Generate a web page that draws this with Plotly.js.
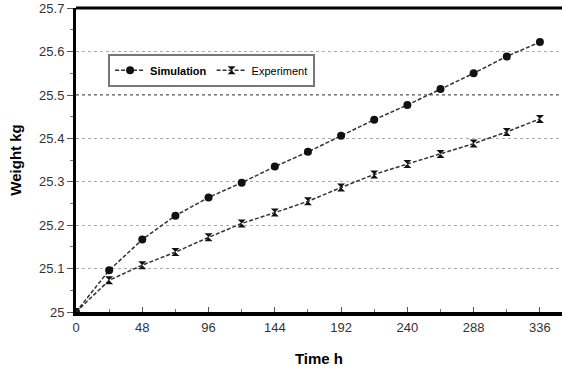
<!DOCTYPE html>
<html><head><meta charset="utf-8">
<script src="https://cdn.plot.ly/plotly-3.0.1.min.js"></script>
<style>html,body{margin:0;padding:0;background:#fff}#c{width:562px;height:368px}</style>
</head><body><div id="c"></div>
<script>
const timeH = [0,24,48,72,96,120,144,168,192,216,240,264,288,312,336];
const simulation = [25.0,25.096,25.167,25.222,25.264,25.298,25.335,25.369,25.406,25.443,25.477,25.514,25.550,25.589,25.622];
const experiment = [25.0,25.073,25.108,25.138,25.172,25.204,25.229,25.255,25.287,25.317,25.341,25.364,25.388,25.415,25.445];
const xTicks = [0,48,96,144,192,240,288,336];
const yTicks = [25,25.1,25.2,25.3,25.4,25.5,25.6,25.7];
const yTickText = ['25','25.1','25.2','25.3','25.4','25.5','25.6','25.7'];

const fam = 'Liberation Sans, Arial, sans-serif';
const traces = [
  {x: timeH, y: simulation, name: '<b>Simulation</b>', mode: 'lines+markers',
   line: {color: '#333', width: 1.5, dash: '4px,2px'},
   marker: {symbol: 'circle', size: 8, color: '#111'}},
  {x: timeH, y: experiment, name: 'Experiment', mode: 'lines+markers',
   line: {color: '#333', width: 1.5, dash: '4px,2px'},
   marker: {symbol: 'hourglass', size: 8, color: '#111'}}
];

const layout = {
  width: 562, height: 368,
  margin: {l: 76, r: 0, t: 8, b: 56, autoexpand: false},
  paper_bgcolor: '#fff', plot_bgcolor: '#fff',
  showlegend: true,
  legend: {orientation: 'h', x: 0.066, y: 0.795, xanchor: 'left', yanchor: 'middle',
    bordercolor: '#777', borderwidth: 2, bgcolor: '#fff',
    font: {family: fam, size: 11, color: '#000'},
    itemwidth: 30, tracegroupgap: 0, itemclick: false},
  xaxis: {range: [0, 352], tickvals: xTicks, ticktext: xTicks.map(String),
    showgrid: false, zeroline: false,
    showline: true, linecolor: '#000', linewidth: 4,
    ticks: 'inside', ticklen: 5, tickcolor: '#555', tickwidth: 1,
    minor: {dtick: 24, tick0: 0, ticks: 'inside', ticklen: 3, tickcolor: '#777'},
    tickfont: {family: fam, size: 13, color: '#333'},
    title: {text: '<b>Time h</b>', standoff: 21,
      font: {family: fam, size: 15, color: '#000'}}},
  yaxis: {range: [25, 25.7005], tickvals: yTicks, ticktext: yTickText,
    showgrid: true, gridcolor: '#aaa', griddash: 'dot', gridwidth: 1,
    zeroline: false, showline: true, linecolor: '#000', linewidth: 3,
    ticks: 'outside', ticklen: 6, tickcolor: '#555', tickwidth: 1,
    minor: {dtick: 0.05, tick0: 25, ticks: 'outside', ticklen: 3, tickcolor: '#777', showgrid: false},
    tickfont: {family: fam, size: 13, color: '#333'},
    title: {text: '<b>Weight kg</b>', standoff: 14,
      font: {family: fam, size: 15, color: '#000'}}},
  shapes: [
    {type: 'line', xref: 'paper', yref: 'y', x0: 0, x1: 1, y0: 25.5, y1: 25.5,
     line: {color: '#555', width: 1.5, dash: 'dot'}, layer: 'below'},
    {type: 'line', xref: 'paper', yref: 'paper', x0: 0, x1: 1, y0: 1, y1: 1,
     line: {color: '#000', width: 3}, layer: 'above'}
  ]
};
Plotly.newPlot('c', traces, layout, {displayModeBar: false, staticPlot: true});
</script></body></html>
